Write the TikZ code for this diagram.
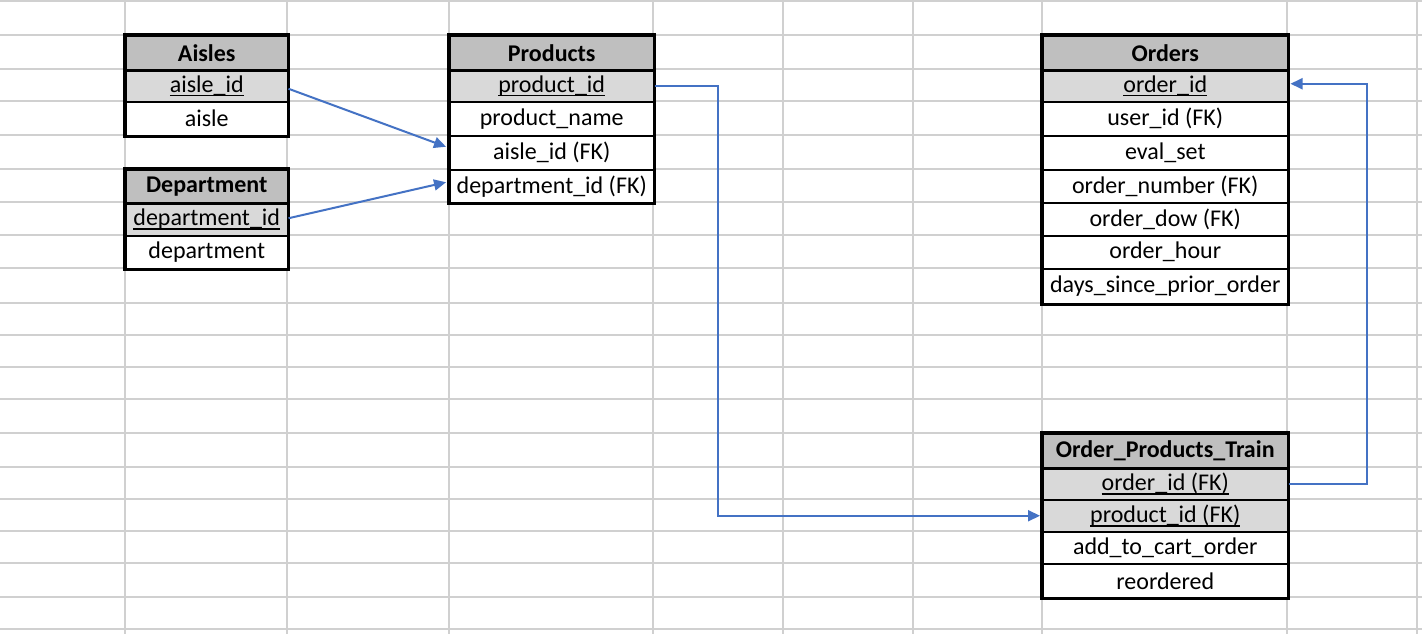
\documentclass[tikz,border=0pt]{standalone}
\usepackage{fontspec}
\setmainfont{Carlito}
\usetikzlibrary{arrows.meta}
\definecolor{gridc}{HTML}{D0D0D0}
\definecolor{hdrc}{HTML}{BFBFBF}
\definecolor{keyc}{HTML}{D9D9D9}
\definecolor{linkc}{HTML}{4472C4}
\tikzset{
  cellbox/.style={draw=black, line width=1.5pt, inner sep=0pt, anchor=north west, font=\fontsize{24}{28}\selectfont},
  hdrbox/.style={cellbox, fill=hdrc, font=\fontsize{24}{28}\selectfont\bfseries},
  keybox/.style={cellbox, fill=keyc},
  plainbox/.style={cellbox, fill=white},
  frame/.style={draw=black, line width=3.2pt},
  conn/.style={draw=linkc, line width=2pt, -{Triangle[length=12pt,width=11pt]}},
  gridline/.style={draw=gridc, line width=2pt}
}
\newcommand{\keytext}[1]{\setbox0\hbox{#1}\rlap{\usebox0}\raisebox{-4pt}{\rule{\wd0}{1.3pt}}}
\newcommand{\cellrow}[7]{% name, style, x, y1, y2, width, text
  \node[#2, minimum width=#6pt, minimum height=\the\numexpr #5-#4\relax pt] (#1) at (#3,#4) {\raisebox{-2pt}{#7}};}
\begin{document}
\begin{tikzpicture}[x=1pt,y=-1pt]
\useasboundingbox (0,0) rectangle (1422,634);
\fill[white] (0,0) rectangle (1422,634);
% grid
\foreach \yy in {1,35,69,101,135,169,202,235,268,303,335,367,399,433,467,499,531,563,597,629}
  \draw[gridline] (0,\yy) -- (1422,\yy);
\foreach \xx in {125,287,449,653,783,913,1042,1287,1417}
  \draw[gridline] (\xx,0) -- (\xx,634);
% Aisles
\cellrow{ah}{hdrbox}{125}{35}{69}{162}{Aisles}
\cellrow{aid}{keybox}{125}{69}{101}{162}{\keytext{aisle\_id}}
\cellrow{aa}{plainbox}{125}{101}{135}{162}{aisle}
\draw[frame] (ah.north west) rectangle (aa.south east);
\draw[frame] (ah.south west) -- (ah.south east);
% Department
\cellrow{dh}{hdrbox}{125}{169}{202}{162}{Department}
\cellrow{did}{keybox}{125}{202}{235}{162}{\keytext{department\_id}}
\cellrow{dd}{plainbox}{125}{235}{268}{162}{department}
\draw[frame] (dh.north west) rectangle (dd.south east);
\draw[frame] (dh.south west) -- (dh.south east);
% Products
\cellrow{ph}{hdrbox}{449}{35}{69}{204}{Products}
\cellrow{pid}{keybox}{449}{69}{101}{204}{\keytext{product\_id}}
\cellrow{pname}{plainbox}{449}{101}{135}{204}{product\_name}
\cellrow{paid}{plainbox}{449}{135}{169}{204}{aisle\_id (FK)}
\cellrow{pdid}{plainbox}{449}{169}{202}{204}{department\_id (FK)}
\draw[frame] (ph.north west) rectangle (pdid.south east);
\draw[frame] (ph.south west) -- (ph.south east);
% Orders
\cellrow{oh}{hdrbox}{1042}{35}{69}{245}{Orders}
\cellrow{oid}{keybox}{1042}{69}{101}{245}{\keytext{order\_id}}
\cellrow{ouid}{plainbox}{1042}{101}{135}{245}{user\_id (FK)}
\cellrow{oeval}{plainbox}{1042}{135}{169}{245}{eval\_set}
\cellrow{onum}{plainbox}{1042}{169}{202}{245}{order\_number (FK)}
\cellrow{odow}{plainbox}{1042}{202}{235}{245}{order\_dow (FK)}
\cellrow{ohour}{plainbox}{1042}{235}{268}{245}{order\_hour}
\cellrow{odays}{plainbox}{1042}{268}{303}{245}{days\_since\_prior\_order}
\draw[frame] (oh.north west) rectangle (odays.south east);
\draw[frame] (oh.south west) -- (oh.south east);
% Order_Products_Train
\cellrow{th}{hdrbox}{1042}{433}{467}{245}{Order\_Products\_Train}
\cellrow{toid}{keybox}{1042}{467}{499}{245}{\keytext{order\_id (FK)}}
\cellrow{tpid}{keybox}{1042}{499}{531}{245}{\keytext{product\_id (FK)}}
\cellrow{tcart}{plainbox}{1042}{531}{563}{245}{add\_to\_cart\_order}
\cellrow{treo}{plainbox}{1042}{563}{597}{245}{reordered}
\draw[frame] (th.north west) rectangle (treo.south east);
\draw[frame] (th.south west) -- (th.south east);
% connectors
\draw[conn] ([yshift=-3pt]aid.east) -- ([xshift=-3pt,yshift=6pt]paid.west);
\draw[conn] ([yshift=1pt]did.east) -- ([xshift=-3pt,yshift=4pt]pdid.west);
\draw[conn] (pid.east) -- ([xshift=63pt]pid.east) |- ([xshift=-2pt]tpid.west);
\draw[conn] (toid.east) -- ([xshift=78pt]toid.east) |- ([xshift=2pt,yshift=2pt]oid.east);
\end{tikzpicture}
\end{document}
